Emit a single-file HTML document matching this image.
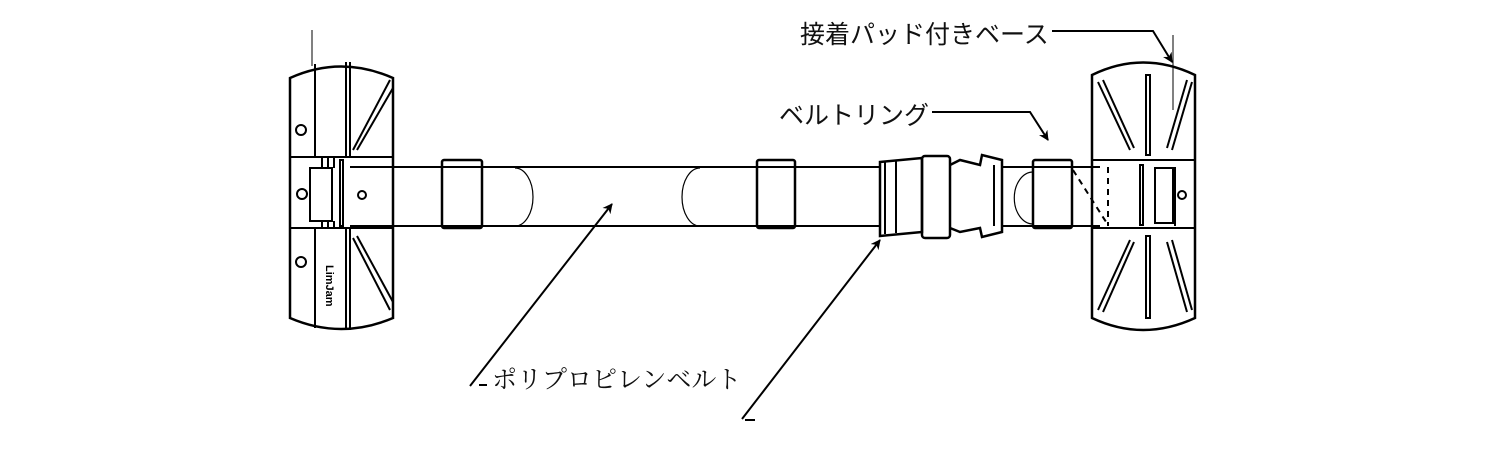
<!DOCTYPE html>
<html><head><meta charset="utf-8"><style>
html,body{margin:0;padding:0;background:#fff;width:1500px;height:450px;overflow:hidden}
svg{display:block}
.s{font-family:"Liberation Sans","Noto Sans CJK JP",sans-serif;font-size:25px;fill:#111}
.r{font-family:"Liberation Serif","Noto Serif CJK SC",serif;font-size:25px;fill:#111}
</style></head><body>
<svg width="1500" height="450" viewBox="0 0 1500 450" fill="none" stroke="#000" stroke-width="2">
<defs><marker id="a" markerWidth="10" markerHeight="10" refX="9" refY="5" orient="auto" markerUnits="userSpaceOnUse" viewBox="0 0 10 10"><path d="M0,0 L10,5 L0,10 L3,5 z" fill="#000" stroke="none"/></marker></defs>
<!-- left base -->
<path d="M290,78 Q341,55 393,78 L393,318 Q341,340 290,318 Z" stroke-width="2.5"/>
<line x1="312" y1="30" x2="312" y2="66" stroke-width="1"/>
<line x1="315" y1="64" x2="315" y2="157"/><line x1="315" y1="228" x2="315" y2="328"/>
<line x1="346" y1="62" x2="346" y2="157"/><line x1="350" y1="62" x2="350" y2="157"/>
<line x1="346" y1="228" x2="346" y2="330"/><line x1="350" y1="228" x2="350" y2="330"/>
<line x1="353" y1="150" x2="390" y2="80"/><line x1="357" y1="150" x2="393" y2="88"/>
<line x1="353" y1="238" x2="390" y2="310"/><line x1="357" y1="236" x2="393" y2="302"/>
<line x1="290" y1="157" x2="393" y2="157"/><line x1="290" y1="228" x2="393" y2="228"/>
<circle cx="301" cy="130" r="5"/><circle cx="301" cy="262" r="5"/><circle cx="302" cy="194" r="5"/><circle cx="362" cy="195" r="4"/>
<rect x="310" y="168" width="22" height="53"/>
<line x1="322" y1="158" x2="322" y2="168"/><line x1="328" y1="158" x2="328" y2="168"/><line x1="334" y1="158" x2="334" y2="168"/>
<line x1="322" y1="221" x2="322" y2="228"/><line x1="328" y1="221" x2="328" y2="228"/><line x1="334" y1="221" x2="334" y2="228"/>
<rect x="340" y="160" width="3" height="66"/>
<text x="326" y="265" style="font:bold 11px 'Liberation Sans';fill:#000;stroke:none" transform="rotate(90 326 265)">LimJam</text>
<!-- belt -->
<line x1="350" y1="167" x2="880" y2="167"/><line x1="350" y1="226" x2="880" y2="226"/>
<rect x="442" y="160" width="40" height="68" rx="2" stroke-width="2.5"/>
<rect x="757" y="160" width="38" height="68" rx="2" stroke-width="2.5"/>
<path d="M515,168 A18,29 0 0,1 515,226" stroke-width="1.2"/>
<path d="M700,168 A18,29 0 0,0 700,226" stroke-width="1.2"/>
<!-- buckle -->
<path d="M880,162 L922,158 L922,232 L880,236 Z" stroke-width="2.5"/>
<line x1="885" y1="162" x2="885" y2="234"/><line x1="896" y1="160" x2="896" y2="233"/>
<rect x="922" y="156" width="28" height="82" rx="3" stroke-width="2.5"/>
<path d="M950,165 L960,160 L980,165 L982,155 L1002,160 L1002,232 L982,237 L980,228 L960,232 L950,228" stroke-width="2.5"/>
<line x1="994" y1="165" x2="994" y2="226"/>
<path d="M1033,172 A18,25 0 0,0 1033,224" stroke-width="1.2"/>
<line x1="1002" y1="167" x2="1100" y2="167"/><line x1="1002" y1="226" x2="1100" y2="226"/>
<rect x="1033" y="160" width="39" height="68" rx="2" stroke-width="2.5"/>
<line x1="1073" y1="170" x2="1108" y2="225" stroke-dasharray="6,5"/>
<line x1="1108" y1="167" x2="1108" y2="226" stroke-dasharray="6,5"/>
<!-- right base -->
<path d="M1092,75 Q1143,50 1195,75 L1195,318 Q1143,342 1092,318 Z" stroke-width="2.5"/>
<line x1="1092" y1="160" x2="1195" y2="160"/><line x1="1092" y1="228" x2="1195" y2="228"/>
<rect x="1146" y="75" width="4" height="80"/><rect x="1146" y="236" width="4" height="82"/>
<line x1="1098" y1="82" x2="1130" y2="150"/><line x1="1103" y1="80" x2="1134" y2="148"/>
<line x1="1192" y1="82" x2="1172" y2="150"/><line x1="1187" y1="80" x2="1167" y2="148"/>
<line x1="1098" y1="310" x2="1130" y2="240"/><line x1="1103" y1="312" x2="1134" y2="242"/>
<line x1="1192" y1="310" x2="1172" y2="240"/><line x1="1187" y1="312" x2="1167" y2="242"/>
<rect x="1140" y="165" width="3" height="60"/><rect x="1155" y="168" width="18" height="55"/>
<line x1="1175" y1="167" x2="1175" y2="226"/>
<circle cx="1182" cy="195" r="4"/>
<line x1="1173" y1="35" x2="1173" y2="110" stroke-width="1"/>
<!-- labels -->
<text class="s" x="800" y="43" stroke="none">接着パッド付きベース</text>
<polyline points="1052,31 1153,31 1172,62" marker-end="url(#a)"/>
<text class="s" x="779" y="124" stroke="none">ベルトリング</text>
<polyline points="932,112 1030,112 1048,140" marker-end="url(#a)"/>
<text class="r" x="492" y="388" stroke="none">ポリプロピレンベルト</text>
<line x1="470" y1="386" x2="612" y2="204" marker-end="url(#a)"/>
<line x1="479" y1="385" x2="487" y2="385"/>
<line x1="742" y1="419" x2="880" y2="240" marker-end="url(#a)"/>
<line x1="745" y1="420" x2="755" y2="420"/>
</svg>
</body></html>
